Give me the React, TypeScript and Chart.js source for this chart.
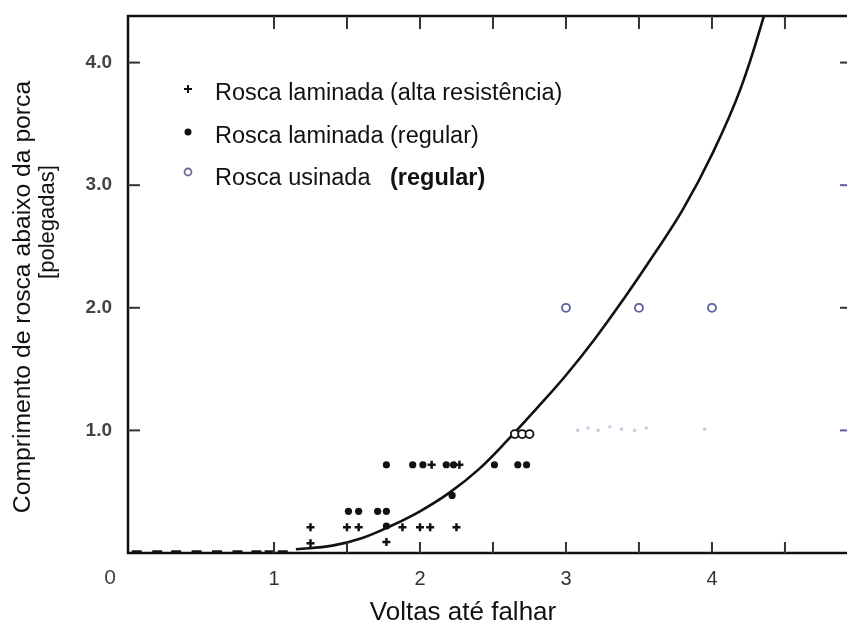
import React, { useEffect, useRef } from "react";
import { Chart, registerables } from "chart.js";

Chart.register(...registerables);

// ---- text ----
const xTitle = "Voltas até falhar";
const yTitleLines = ["Comprimento de rosca abaixo da porca", "[polegadas]"];
const legendLabels = [
  "Rosca laminada (alta resistência)",
  "Rosca laminada (regular)",
  "Rosca usinada",
];
const legendBoldSuffix = ["", "", "(regular)"];
const originLabel = "0";

// ---- ticks ----
const xMin = 0;
const xMax = 4.925;
const yMin = 0;
const yMax = 4.38;
const xLabelValues = [1, 2, 3, 4];
const xTickMarks = [1, 1.5, 2, 2.5, 3, 3.5, 4, 4.5];
const yTickMarks = [1, 2, 3, 4];

// ---- data ----
const highStrengthX = [1.25, 1.25, 1.5, 1.58, 1.77, 1.88, 2.0, 2.07, 2.25, 2.08, 2.27];
const highStrengthY = [0.21, 0.08, 0.21, 0.21, 0.09, 0.21, 0.21, 0.21, 0.21, 0.72, 0.72];

const regularX = [1.51, 1.58, 1.71, 1.77, 1.77, 1.95, 2.02, 2.18, 2.23, 2.51, 2.67, 2.73, 2.22, 1.77];
const regularY = [0.34, 0.34, 0.34, 0.34, 0.72, 0.72, 0.72, 0.72, 0.72, 0.72, 0.72, 0.72, 0.47, 0.22];

const machinedX = [2.65, 2.7, 2.75, 3.0, 3.5, 4.0];
const machinedY = [0.97, 0.97, 0.97, 2.0, 2.0, 2.0];

const curveX = [1.15, 1.4, 1.6, 1.8, 2.0, 2.2, 2.4, 2.6, 2.8, 3.0, 3.2, 3.4, 3.6, 3.8, 4.0, 4.2, 4.4];
const curveY = [0.03, 0.06, 0.12, 0.22, 0.34, 0.49, 0.68, 0.92, 1.18, 1.45, 1.75, 2.08, 2.43, 2.8, 3.25, 3.8, 4.55];

const baseDashX = [0.06, 0.2, 0.33, 0.47, 0.61, 0.75, 0.88, 0.97, 1.06];
const baseDashY = [0.01, 0.01, 0.01, 0.01, 0.01, 0.01, 0.01, 0.01, 0.01];

const faintX = [3.08, 3.15, 3.22, 3.3, 3.38, 3.47, 3.55, 3.95];
const faintY = [1.0, 1.02, 1.0, 1.03, 1.01, 1.0, 1.02, 1.01];

const pts = (xs: number[], ys: number[]) => xs.map((x, i) => ({ x, y: ys[i] }));

const FONT = '"Liberation Sans", Arial, Helvetica, sans-serif';
const INK = "#111111";
const BLUE = "#5d5d9e";

const zeroPad = (s: any) => {
  s.paddingTop = 0;
  s.paddingBottom = 0;
  s.paddingLeft = 0;
  s.paddingRight = 0;
};

const framePlugin = {
  id: "framePlugin",
  afterDraw(chart: any) {
    const { ctx, chartArea } = chart;
    const { left, right, top, bottom } = chartArea;
    const xs = chart.scales.x;
    const ys = chart.scales.y;
    ctx.save();
    // frame
    ctx.strokeStyle = INK;
    ctx.lineWidth = 2.5;
    ctx.beginPath();
    ctx.moveTo(right + 2, top);
    ctx.lineTo(left, top);
    ctx.lineTo(left, bottom);
    ctx.lineTo(right + 2, bottom);
    ctx.stroke();

    // inward ticks
    ctx.lineWidth = 2;
    ctx.strokeStyle = "#333";
    xTickMarks.forEach((v) => {
      const px = xs.getPixelForValue(v);
      ctx.beginPath();
      ctx.moveTo(px, bottom);
      ctx.lineTo(px, bottom - 11);
      ctx.moveTo(px, top);
      ctx.lineTo(px, top + 13);
      ctx.stroke();
    });
    yTickMarks.forEach((v) => {
      const py = ys.getPixelForValue(v);
      ctx.strokeStyle = "#333";
      ctx.beginPath();
      ctx.moveTo(left, py);
      ctx.lineTo(left + 12, py);
      ctx.stroke();
      ctx.beginPath();
      ctx.strokeStyle = v % 2 === 0 ? "#333" : BLUE;
      ctx.moveTo(right, py);
      ctx.lineTo(right - 7, py);
      ctx.stroke();
    });

    // origin label
    ctx.fillStyle = "#444";
    ctx.font = `21px ${FONT}`;
    ctx.textAlign = "center";
    ctx.textBaseline = "middle";
    ctx.fillText(originLabel, left - 18, bottom + 25);

    // x title
    ctx.fillStyle = "#111";
    ctx.font = `26px ${FONT}`;
    ctx.fillText(xTitle, 463, 613);

    // y title (two lines)
    ctx.save();
    ctx.translate(23, 297);
    ctx.rotate(-Math.PI / 2);
    ctx.font = `24.7px ${FONT}`;
    ctx.fillText(yTitleLines[0], 0, 0);
    ctx.restore();
    ctx.save();
    ctx.translate(48, 222);
    ctx.rotate(-Math.PI / 2);
    ctx.font = `22px ${FONT}`;
    ctx.fillText(yTitleLines[1], 0, 0);
    ctx.restore();

    // legend
    const symX = 188;
    const symY = [89, 132, 172];
    const baseY = [100, 143, 185];
    ctx.strokeStyle = INK;
    ctx.lineWidth = 2;
    ctx.beginPath();
    ctx.moveTo(symX - 4, symY[0]);
    ctx.lineTo(symX + 4, symY[0]);
    ctx.moveTo(symX, symY[0] - 4);
    ctx.lineTo(symX, symY[0] + 4);
    ctx.stroke();
    ctx.fillStyle = INK;
    ctx.beginPath();
    ctx.arc(symX, symY[1], 3.5, 0, Math.PI * 2);
    ctx.fill();
    ctx.strokeStyle = "#6a6a9a";
    ctx.lineWidth = 1.8;
    ctx.beginPath();
    ctx.arc(symX, symY[2], 3.5, 0, Math.PI * 2);
    ctx.stroke();

    ctx.fillStyle = "#111";
    ctx.textAlign = "left";
    ctx.textBaseline = "alphabetic";
    legendLabels.forEach((lab, i) => {
      ctx.font = `23.5px ${FONT}`;
      ctx.fillText(lab, 215, baseY[i]);
      if (legendBoldSuffix[i]) {
        ctx.font = `bold 23.5px ${FONT}`;
        ctx.fillText(legendBoldSuffix[i], 390, baseY[i]);
      }
    });
    ctx.restore();
  },
};

export default function App() {
  const ref = useRef<HTMLCanvasElement | null>(null);

  useEffect(() => {
    if (!ref.current) return;
    const chart = new Chart(ref.current, {
      type: "scatter",
      data: {
        datasets: [
          {
            label: legendLabels[0],
            data: pts(highStrengthX, highStrengthY),
            pointStyle: "cross",
            pointRadius: 4,
            borderColor: INK,
            backgroundColor: INK,
            borderWidth: 2.5,
          },
          {
            label: legendLabels[1],
            data: pts(regularX, regularY),
            pointStyle: "circle",
            pointRadius: 3.6,
            borderColor: INK,
            backgroundColor: INK,
            borderWidth: 0,
          },
          {
            label: legendLabels[2],
            data: pts(machinedX, machinedY),
            pointStyle: "circle",
            pointRadius: 4,
            backgroundColor: "#ffffff",
            borderColor: (c: any) => (c.raw && c.raw.y > 1.5 ? BLUE : INK),
            borderWidth: 1.8,
          },
          {
            type: "line",
            label: "curve",
            data: pts(curveX, curveY),
            borderColor: INK,
            borderWidth: 2.6,
            pointRadius: 0,
            tension: 0.4,
            fill: false,
          } as any,
          {
            label: "base",
            data: pts(baseDashX, baseDashY),
            pointStyle: "line",
            pointRadius: 5,
            borderColor: INK,
            borderWidth: 3,
          },
          {
            label: "faint",
            data: pts(faintX, faintY),
            pointStyle: "circle",
            pointRadius: 1.8,
            borderWidth: 0,
            backgroundColor: "rgba(140,140,190,0.45)",
          },
        ],
      },
      options: {
        animation: false,
        responsive: false,
        devicePixelRatio: 1,
        layout: { autoPadding: false, padding: { left: 0, right: 0, top: 16, bottom: 0 } },
        plugins: {
          legend: { display: false },
          tooltip: { enabled: false },
        },
        scales: {
          x: {
            type: "linear",
            min: xMin,
            max: xMax,
            grid: { display: false, drawTicks: false },
            border: { display: false },
            ticks: {
              stepSize: 1,
              autoSkip: false,
              maxRotation: 0,
              padding: 14,
              color: "#333",
              font: { size: 20, family: FONT },
              callback: (v: any) => (xLabelValues.includes(Number(v)) ? String(v) : ""),
            },
            afterFit: (s: any) => {
              s.height = 77;
              zeroPad(s);
            },
          },
          y: {
            type: "linear",
            min: yMin,
            max: yMax,
            grid: { display: false, drawTicks: false },
            border: { display: false },
            ticks: {
              stepSize: 1,
              autoSkip: false,
              padding: 16,
              color: "#444",
              font: { size: 19, weight: "bold", family: FONT },
              callback: (v: any) => (yTickMarks.includes(Number(v)) ? Number(v).toFixed(1) : ""),
            },
            afterFit: (s: any) => {
              s.width = 128;
              zeroPad(s);
            },
          },
        },
      },
      plugins: [framePlugin],
    } as any);
    return () => chart.destroy();
  }, []);

  return (
    <div style={{ position: "absolute", left: 0, top: 0, width: 847, height: 630, background: "#fff" }}>
      <canvas ref={ref} width={847} height={630} style={{ display: "block", width: 847, height: 630 }} />
    </div>
  );
}
